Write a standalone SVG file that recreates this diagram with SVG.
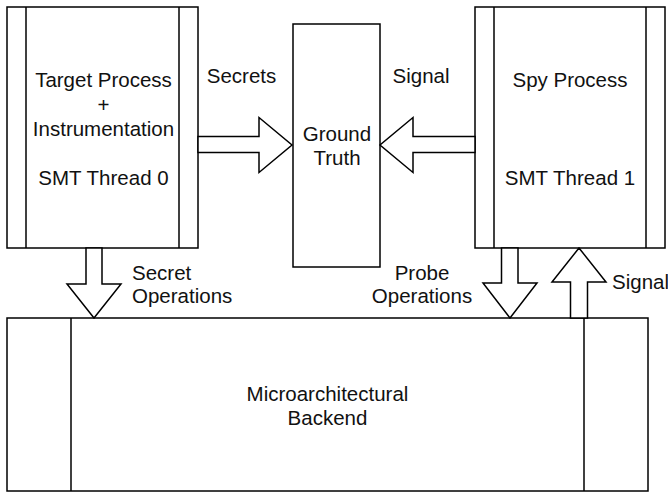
<svg xmlns="http://www.w3.org/2000/svg" width="668" height="494" viewBox="0 0 668 494">
  <style>
    .box { fill: #ffffff; stroke: #000000; stroke-width: 1.5; }
    .bar { fill: none; stroke: #000000; stroke-width: 1.5; }
    .arrow { fill: #ffffff; stroke: #000000; stroke-width: 1.5; stroke-linejoin: miter; }
    text { font-family: "Liberation Sans", Arial, Helvetica, sans-serif; font-size: 20.5px; fill: #111111; }
    .c { text-anchor: middle; }
    .l { text-anchor: start; }
  </style>
  <rect width="668" height="494" fill="#ffffff"/>

  <!-- Target process (SMT thread 0) -->
  <g id="target-process">
    <rect class="box" x="7" y="7" width="191" height="241"/>
    <line class="bar" x1="26" y1="7" x2="26" y2="248"/>
    <line class="bar" x1="179" y1="7" x2="179" y2="248"/>
    <text class="c" x="103.5" y="87">Target Process</text>
    <text class="c" x="103.5" y="111.5">+</text>
    <text class="c" x="103.5" y="136">Instrumentation</text>
    <text class="c" x="103.5" y="185">SMT Thread 0</text>
  </g>

  <!-- Ground truth -->
  <g id="ground-truth">
    <rect class="box" x="293" y="24" width="87" height="243"/>
    <text class="c" x="337" y="141">Ground</text>
    <text class="c" x="337" y="165">Truth</text>
  </g>

  <!-- Spy process (SMT thread 1) -->
  <g id="spy-process">
    <rect class="box" x="475" y="7" width="190" height="241"/>
    <line class="bar" x1="494" y1="7" x2="494" y2="248"/>
    <line class="bar" x1="646" y1="7" x2="646" y2="248"/>
    <text class="c" x="570" y="87">Spy Process</text>
    <text class="c" x="570" y="185">SMT Thread 1</text>
  </g>

  <!-- Microarchitectural backend -->
  <g id="backend">
    <rect class="box" x="7" y="318" width="641" height="173"/>
    <line class="bar" x1="71" y1="318" x2="71" y2="491"/>
    <line class="bar" x1="584" y1="318" x2="584" y2="491"/>
    <text class="c" x="327.5" y="401">Microarchitectural</text>
    <text class="c" x="327.5" y="425">Backend</text>
  </g>

  <!-- Block arrows between components -->
  <g id="connectors">
    <!-- Secrets: target -> ground truth -->
    <polygon class="arrow" points="198,136.5 259,136.5 259,117.5 292,145 259,172.5 259,152.5 198,152.5"/>
    <!-- Signal: spy -> ground truth -->
    <polygon class="arrow" points="475,136.5 413,136.5 413,117.5 380,145 413,172.5 413,152.5 475,152.5"/>
    <!-- Secret operations: target -> backend -->
    <polygon class="arrow" points="86,248 102,248 102,284 121,284 94,318 67,284 86,284"/>
    <!-- Probe operations: spy -> backend -->
    <polygon class="arrow" points="501.5,248 518,248 518,283 537,283 510,318 483,283 501.5,283"/>
    <!-- Signal: backend -> spy -->
    <polygon class="arrow" points="570.5,318 587.5,318 587.5,282 606,282 579,248 552,282 570.5,282"/>
  </g>

  <!-- Connector labels -->
  <g id="labels">
    <text class="c" x="241.5" y="83">Secrets</text>
    <text class="c" x="421" y="83">Signal</text>
    <text class="l" x="132" y="280">Secret</text>
    <text class="l" x="132" y="303">Operations</text>
    <text class="c" x="422" y="280">Probe</text>
    <text class="c" x="422" y="303">Operations</text>
    <text class="l" x="612" y="289">Signal</text>
  </g>
</svg>
